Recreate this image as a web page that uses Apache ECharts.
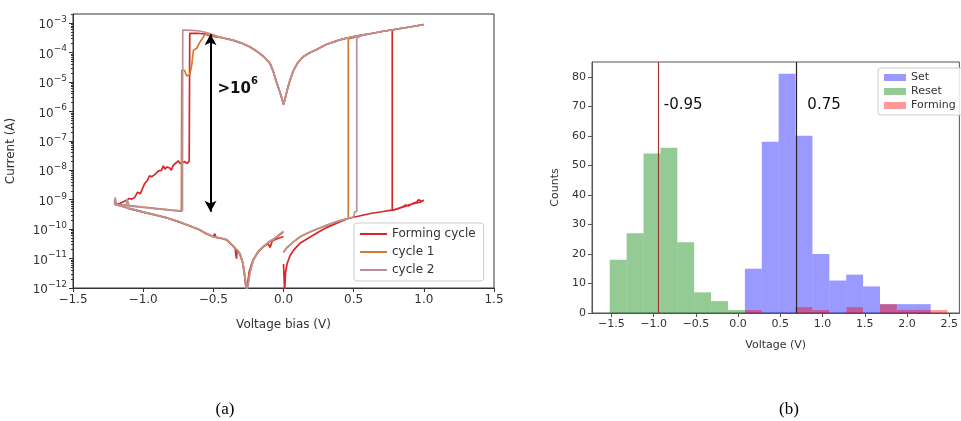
<!DOCTYPE html>
<html><head><meta charset="utf-8">
<script src="https://cdn.jsdelivr.net/npm/echarts@6/dist/echarts.min.js"></script>
<style>html,body{margin:0;padding:0;background:#fff}#c{width:961px;height:421px}</style>
</head><body><div id="c"></div>
<script>
// ---------- (a) I-V curves: [voltage V, current A] ----------
const lrsUpper = [ // common low-resistance branch, swept from +1.0 V down through 0 to about -0.45 V
 [1.0,9.0e-4],[0.9,7.4e-4],[0.8,6.2e-4],[0.7,5.2e-4],[0.6,4.2e-4],[0.5,3.5e-4],[0.4,2.7e-4],[0.3,1.85e-4],
 [0.24,1.3e-4],[0.18,9.5e-5],[0.14,7.2e-5],[0.1,4.4e-5],[0.07,2.4e-5],[0.045,1.1e-5],[0.025,5.0e-6],[0.01,2.6e-6],
 [0.0,1.7e-6],[-0.01,2.6e-6],[-0.025,4.5e-6],[-0.05,1.0e-5],[-0.072,2.2e-5],[-0.096,4.3e-5],[-0.144,7.5e-5],
 [-0.19,1.1e-4],[-0.238,1.55e-4],[-0.3,2.1e-4],[-0.357,2.6e-4],[-0.45,3.3e-4]
];
const formingCycle = [
 [0.0,6.5e-12],[0.008,8e-13],[0.015,3.5e-12],[0.025,6.5e-12],[0.045,1.2e-11],[0.07,1.9e-11],[0.12,3.4e-11],
 [0.19,5.4e-11],[0.25,8.0e-11],[0.31,1.15e-10],[0.38,1.6e-10],[0.46,2.3e-10],[0.54,2.8e-10],[0.62,3.4e-10],
 [0.70,3.9e-10],[0.77,4.4e-10],[0.81,4.9e-10],[0.85,5.7e-10],[0.87,6.6e-10],[0.89,6.1e-10],[0.92,7.4e-10],
 [0.95,8.4e-10],[0.965,1.0e-9],[0.98,8.8e-10],[1.0,9.6e-10],[0.975,8.2e-10],[0.94,7.6e-10],[0.90,6.8e-10],
 [0.86,5.8e-10],[0.82,5.0e-10],[0.775,4.3e-10],[0.775,5.6e-4],[0.8,6.2e-4],[0.9,7.4e-4],
 ...lrsUpper,
 [-0.524,3.7e-4],[-0.56,4.3e-4],[-0.6,4.45e-4],[-0.668,4.5e-4],[-0.672,2.0e-8],[-0.69,1.7e-8],[-0.705,2.0e-8],
 [-0.72,1.8e-8],[-0.737,1.7e-8],[-0.75,2.1e-8],[-0.765,1.8e-8],[-0.785,1.5e-8],[-0.80,1.0e-8],[-0.81,1.2e-8],
 [-0.83,1.3e-8],[-0.845,1.1e-8],[-0.856,1.4e-8],[-0.87,1.0e-8],[-0.89,9.5e-9],[-0.90,1.0e-8],[-0.92,7.0e-9],
 [-0.94,6.0e-9],[-0.955,6.5e-9],[-0.97,4.5e-9],[-0.99,3.5e-9],[-1.0,2.7e-9],[-1.02,1.6e-9],[-1.04,1.8e-9],
 [-1.06,1.2e-9],[-1.08,1.05e-9],[-1.1,1.1e-9],[-1.12,9.5e-10],[-1.14,8.5e-10],[-1.165,7.5e-10],[-1.18,7.2e-10],
 [-1.2,6.8e-10],[-1.15,6.0e-10],[-1.1,5.0e-10],[-1.0,3.8e-10],[-0.9,2.9e-10],[-0.83,2.4e-10],[-0.75,1.8e-10],
 [-0.68,1.35e-10],[-0.6,9.5e-11],[-0.55,7.0e-11],[-0.5,5.5e-11],[-0.49,7.0e-11],[-0.48,5.2e-11],[-0.43,4.7e-11],
 [-0.405,4.3e-11],[-0.37,3.0e-11],[-0.345,2.2e-11],[-0.335,1.0e-11],[-0.33,2.0e-11],[-0.31,1.4e-11],[-0.29,7.0e-12],
 [-0.276,2.5e-12],[-0.264,7e-13],[-0.255,7e-13],[-0.245,3.5e-12],[-0.23,6.0e-12],[-0.215,9.0e-12],[-0.18,1.7e-11],
 [-0.144,2.5e-11],[-0.11,3.2e-11],[-0.096,2.4e-11],[-0.08,4.0e-11],[-0.05,4.6e-11],[-0.03,5.0e-11],[0.0,5.6e-11]
];
const cycle1 = [
 [0.0,1.6e-11],[0.02,2.2e-11],[0.07,3.6e-11],[0.12,5.5e-11],[0.19,8.0e-11],[0.25,1.05e-10],[0.31,1.35e-10],
 [0.38,1.8e-10],[0.44,2.2e-10],[0.462,2.3e-10],[0.462,2.9e-4],[0.5,3.2e-4],[0.53,3.7e-4],[0.6,4.2e-4],
 [0.7,5.2e-4],[0.8,6.2e-4],[0.9,7.4e-4],
 ...lrsUpper,
 [-0.524,3.8e-4],[-0.56,4.3e-4],[-0.571,3.4e-4],[-0.595,2.3e-4],[-0.618,1.4e-4],[-0.642,1.2e-4],[-0.654,3.7e-5],
 [-0.668,1.8e-5],[-0.69,1.6e-5],[-0.705,2.5e-5],[-0.725,2.5e-5],[-0.728,4.0e-10],[-0.8,4.4e-10],[-0.9,5.0e-10],
 [-1.0,5.6e-10],[-1.1,6.3e-10],[-1.2,7.0e-10],[-1.15,6.0e-10],[-1.1,5.1e-10],[-1.0,3.8e-10],[-0.9,2.9e-10],
 [-0.83,2.4e-10],[-0.75,1.8e-10],[-0.68,1.35e-10],[-0.6,9.5e-11],[-0.55,7.0e-11],[-0.5,5.5e-11],[-0.45,5.0e-11],
 [-0.405,4.3e-11],[-0.37,3.0e-11],[-0.34,2.1e-11],[-0.31,1.4e-11],[-0.29,7.0e-12],[-0.276,2.5e-12],[-0.263,7e-13],
 [-0.252,7e-13],[-0.24,3.5e-12],[-0.215,9.0e-12],[-0.18,1.7e-11],[-0.144,2.5e-11],[-0.1,3.7e-11],[-0.072,4.3e-11],
 [-0.03,6.2e-11],[0.0,8.0e-11]
];
const cycle2 = [
 [0.0,1.6e-11],[0.02,2.3e-11],[0.07,3.7e-11],[0.12,5.6e-11],[0.19,8.2e-11],[0.25,1.07e-10],[0.31,1.38e-10],
 [0.38,1.8e-10],[0.46,2.3e-10],[0.50,2.6e-10],[0.507,3.8e-10],[0.522,4.0e-10],[0.522,3.0e-4],[0.55,3.7e-4],
 [0.6,4.2e-4],[0.7,5.2e-4],[0.8,6.2e-4],[0.9,7.4e-4],
 ...lrsUpper,
 [-0.5,4.0e-4],[-0.55,4.8e-4],[-0.6,5.4e-4],[-0.65,5.7e-4],[-0.7,5.8e-4],[-0.718,5.8e-4],[-0.72,4.2e-10],
 [-0.8,4.4e-10],[-0.9,4.9e-10],[-1.0,5.5e-10],[-1.1,6.2e-10],[-1.115,1.05e-9],[-1.12,6.5e-10],[-1.19,7.0e-10],
 [-1.2,1.2e-9],[-1.205,7.2e-10],[-1.15,6.0e-10],[-1.1,5.1e-10],[-1.0,3.9e-10],[-0.9,3.0e-10],[-0.83,2.4e-10],
 [-0.75,1.85e-10],[-0.68,1.35e-10],[-0.6,9.8e-11],[-0.55,7.2e-11],[-0.5,5.6e-11],[-0.45,5.1e-11],[-0.405,4.4e-11],
 [-0.37,3.1e-11],[-0.34,2.2e-11],[-0.31,1.5e-11],[-0.29,7.5e-12],[-0.274,2.5e-12],[-0.26,7e-13],[-0.248,7e-13],
 [-0.237,3.5e-12],[-0.215,9.5e-12],[-0.18,1.8e-11],[-0.144,2.6e-11],[-0.1,3.9e-11],[-0.072,4.6e-11],
 [-0.03,6.6e-11],[0.0,8.5e-11]
];
const ratioArrow = [[-0.52,4.2e-4],[-0.52,3.9e-10]];   // >10^6 arrow ends
const ratioLabelAt = [-0.47,7.2e-6];
const currentTickExps = [-12,-11,-10,-9,-8,-7,-6,-5,-4,-3];
const biasTicks = [-1.5,-1.0,-0.5,0.0,0.5,1.0,1.5];

// ---------- (b) histogram ----------
const binEdges = [-1.52,-1.32,-1.12,-0.92,-0.72,-0.52,-0.32,-0.12,0.08,0.28,0.48,0.68,0.88,1.08,1.28,1.48,1.68,1.88,2.08,2.28,2.48];
const setCounts     = [0,0,0,0,0,0,0,0,15,58,81,60,20,11,13,9,3,3,3,0];
const resetCounts   = [18,27,54,56,24,7,4,1,0,0,0,0,0,0,0,0,0,0,0,0];
const formingCounts = [0,0,0,0,0,0,0,0,1,0,0,2,1,0,2,0,3,1,1,1];
const resetMedianLine = -0.94, setMedianLine = 0.69;
const resetLabel = '-0.95', setLabel = '0.75';
const voltTicks = [-1.5,-1.0,-0.5,0.0,0.5,1.0,1.5,2.0,2.5];
const countTicks = [0,10,20,30,40,50,60,70,80];

// ---------- build ----------
const FONT = 'DejaVu Sans';
const lg = v => Math.log10(v);
const toLog = arr => arr.map(p => [p[0], lg(p[1])]);
const minusFmt = v => (v < 0 ? '\u2212' : '') + Math.abs(v).toFixed(1);
const minorTicks = [];
currentTickExps.forEach(e => { for (let k = 2; k <= 9; k++) { const t = e + Math.log10(k); if (t < -2.69) minorTicks.push(t); } });
const histData = counts => counts.map((c, i) => [binEdges[i], binEdges[i+1], c]);
const renderBin = (params, api) => {
  if (!api.value(2)) return null;
  const p0 = api.coord([api.value(0), 0]);
  const p1 = api.coord([api.value(1), api.value(2)]);
  return {type:'rect', shape:{x:p0[0], y:p1[1], width:p1[0]-p0[0], height:p0[1]-p1[1]}, style: api.style()};
};
const lineColors = ['#d8262a', '#d27a30', '#bb9096'];

const option = {
  animation: false,
  textStyle: {fontFamily: FONT},
  grid: [
    {left: 73, top: 14, width: 421, height: 274, show: true, borderColor: '#333', borderWidth: 1},
    {left: 592, top: 62, width: 373, height: 251, show: true, borderColor: '#555', borderWidth: 1}
  ],
  xAxis: [
    {gridIndex: 0, type: 'value', min: -1.5, max: 1.5,
     name: 'Voltage bias (V)', nameLocation: 'middle', nameGap: 31,
     nameTextStyle: {fontSize: 12, color: '#333', fontFamily: FONT},
     axisLine: {onZero: false, lineStyle: {color: '#333'}},
     axisTick: {customValues: biasTicks, length: 4, lineStyle: {color: '#333'}},
     axisLabel: {customValues: biasTicks, formatter: minusFmt, fontSize: 12, color: '#333', margin: 6},
     splitLine: {show: false}},
    {gridIndex: 1, type: 'value', min: -1.73, max: 2.62,
     name: 'Voltage (V)', nameLocation: 'middle', nameGap: 27,
     nameTextStyle: {fontSize: 11, color: '#333', fontFamily: FONT},
     axisLine: {onZero: false, lineStyle: {color: '#555'}},
     axisTick: {customValues: voltTicks, length: 4, lineStyle: {color: '#555'}},
     axisLabel: {customValues: voltTicks, formatter: minusFmt, fontSize: 11, color: '#333', margin: 6},
     splitLine: {show: false}}
  ],
  yAxis: [
    {gridIndex: 0, type: 'value', min: -12, max: -2.69,
     name: 'Current (A)', nameLocation: 'middle', nameGap: 56,
     nameTextStyle: {fontSize: 12, color: '#333', fontFamily: FONT},
     axisLine: {onZero: false, lineStyle: {color: '#333'}},
     axisTick: {customValues: currentTickExps, length: 4, lineStyle: {color: '#333'}},
     axisLabel: {customValues: currentTickExps, margin: 6,
       formatter: v => '{b|10}{s|' + String(Math.round(v)).replace('-', '\u2212') + '}',
       rich: {b: {fontSize: 12, color: '#333', lineHeight: 16, verticalAlign: 'bottom', fontFamily: FONT},
              s: {fontSize: 9, color: '#333', lineHeight: 9, verticalAlign: 'top', fontFamily: FONT}}},
     splitLine: {show: false}},
    {gridIndex: 0, type: 'value', min: -12, max: -2.69, position: 'left',
     axisLine: {show: false, onZero: false},
     axisTick: {customValues: minorTicks, length: 2, lineStyle: {color: '#333'}},
     axisLabel: {show: false}, splitLine: {show: false}},
    {gridIndex: 1, type: 'value', min: 0, max: 85,
     name: 'Counts', nameLocation: 'middle', nameGap: 31,
     nameTextStyle: {fontSize: 11, color: '#333', fontFamily: FONT},
     axisLine: {onZero: false, lineStyle: {color: '#555'}},
     axisTick: {customValues: countTicks, length: 4, lineStyle: {color: '#555'}},
     axisLabel: {customValues: countTicks, fontSize: 11, color: '#333', margin: 6},
     splitLine: {show: false}}
  ],
  legend: [
    {data: ['Forming cycle', 'cycle 1', 'cycle 2'], orient: 'vertical', left: 354, top: 223,
     icon: 'rect', itemWidth: 27, itemHeight: 2, itemGap: 6,
     textStyle: {fontSize: 12, color: '#333', fontFamily: FONT},
     backgroundColor: 'rgba(255,255,255,0.85)', borderColor: '#ccc', borderWidth: 1, borderRadius: 3,
     padding: [5, 8, 5, 6]},
    {data: ['Set', 'Reset', 'Forming'], orient: 'vertical', left: 878, top: 68,
     icon: 'rect', itemWidth: 22, itemHeight: 7, itemGap: 3,
     textStyle: {fontSize: 11, color: '#333', fontFamily: FONT},
     backgroundColor: 'rgba(255,255,255,0.85)', borderColor: '#ccc', borderWidth: 1, borderRadius: 3,
     padding: [4, 30, 4, 6]}
  ],
  series: [
    {name: 'Forming cycle', type: 'line', xAxisIndex: 0, yAxisIndex: 0, data: toLog(formingCycle),
     showSymbol: false, color: lineColors[0], lineStyle: {width: 1.7, color: lineColors[0]}},
    {name: 'cycle 1', type: 'line', xAxisIndex: 0, yAxisIndex: 0, data: toLog(cycle1),
     showSymbol: false, color: lineColors[1], lineStyle: {width: 1.7, color: lineColors[1]}},
    {name: 'cycle 2', type: 'line', xAxisIndex: 0, yAxisIndex: 0, data: toLog(cycle2),
     showSymbol: false, color: lineColors[2], lineStyle: {width: 1.7, color: lineColors[2]}},
    {name: 'ratio', type: 'line', xAxisIndex: 0, yAxisIndex: 0, data: [],
     markLine: {silent: true, symbol: ['arrow', 'arrow'], symbolSize: [9, 11],
       lineStyle: {color: '#000', width: 2, type: 'solid'}, label: {show: false},
       data: [[{coord: [ratioArrow[0][0], lg(ratioArrow[0][1])]}, {coord: [ratioArrow[1][0], lg(ratioArrow[1][1])]}]]},
     markPoint: {silent: true, symbol: 'circle', symbolSize: 0,
       data: [{coord: [ratioLabelAt[0], lg(ratioLabelAt[1])]}],
       label: {show: true, position: 'right', distance: 0, formatter: '{t|>10}{s|6}',
         rich: {t: {fontSize: 15, fontWeight: 'bold', color: '#111', lineHeight: 20, verticalAlign: 'bottom', fontFamily: FONT},
                s: {fontSize: 10, fontWeight: 'bold', color: '#111', lineHeight: 11, verticalAlign: 'top', fontFamily: FONT}}}}},
    {name: 'Set', type: 'custom', xAxisIndex: 1, yAxisIndex: 2, renderItem: renderBin,
     encode: {x: [0, 1], y: 2}, data: histData(setCounts), itemStyle: {color: 'rgba(0,0,255,0.4)'}, color: 'rgba(0,0,255,0.4)'},
    {name: 'Reset', type: 'custom', xAxisIndex: 1, yAxisIndex: 2, renderItem: renderBin,
     encode: {x: [0, 1], y: 2}, data: histData(resetCounts), itemStyle: {color: 'rgba(0,128,0,0.42)'}, color: 'rgba(0,128,0,0.42)'},
    {name: 'Forming', type: 'custom', xAxisIndex: 1, yAxisIndex: 2, renderItem: renderBin,
     encode: {x: [0, 1], y: 2}, data: histData(formingCounts), itemStyle: {color: 'rgba(255,0,0,0.4)'}, color: 'rgba(255,0,0,0.4)'},
    {name: 'medians', type: 'line', xAxisIndex: 1, yAxisIndex: 2, data: [],
     markLine: {silent: true, symbol: 'none', label: {show: false},
       data: [{xAxis: resetMedianLine, lineStyle: {color: '#9a3a34', width: 1.2, type: 'solid'}},
              {xAxis: setMedianLine, lineStyle: {color: '#222', width: 1.2, type: 'solid'}}]},
     markPoint: {silent: true, symbol: 'circle', symbolSize: 0,
       label: {show: true, position: 'right', distance: 0, fontSize: 15, color: '#111', fontFamily: FONT},
       data: [{coord: [resetMedianLine + 0.06, 70.5], label: {formatter: resetLabel}},
              {coord: [setMedianLine + 0.13, 70.5], label: {formatter: setLabel}}]}}
  ],
  graphic: [
    {type: 'text', x: 225, y: 410, style: {text: '(a)', font: '17px "Liberation Serif"', fill: '#000', textAlign: 'center', textVerticalAlign: 'middle'}},
    {type: 'text', x: 789, y: 410, style: {text: '(b)', font: '17px "Liberation Serif"', fill: '#000', textAlign: 'center', textVerticalAlign: 'middle'}}
  ]
};
const chart = echarts.init(document.getElementById('c'), null, {renderer: 'canvas'});
chart.setOption(option);
</script></body></html>
